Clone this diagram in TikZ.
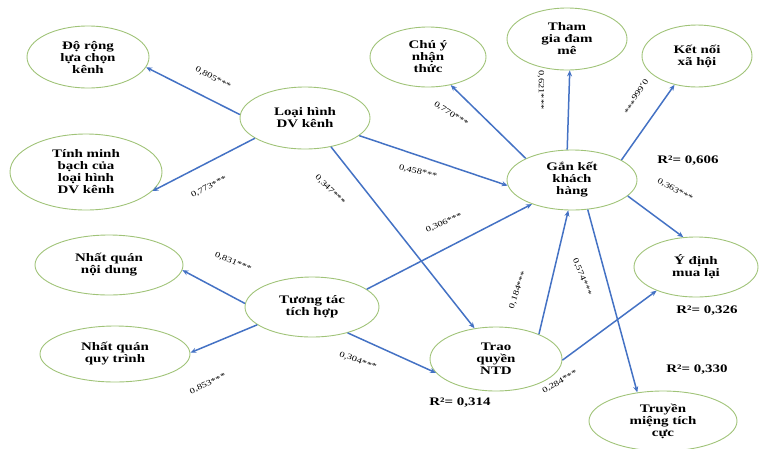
\documentclass[tikz,border=0pt]{standalone}
\usepackage{fontspec}
\setmainfont{Liberation Serif}[FakeStretch=1.3]
\usetikzlibrary{shapes.geometric,arrows.meta}
\definecolor{ellgreen}{RGB}{160,195,120}
\definecolor{arrblue}{RGB}{68,114,196}
\begin{document}
\begin{tikzpicture}[x=1pt,y=-1pt,
 ell/.style={ellipse,draw=ellgreen,line width=0.9pt,inner sep=0pt,align=center,font=\bfseries\fontsize{11.5}{12}\selectfont},
 arr/.style={draw=arrblue,line width=1.5pt,-{Stealth[length=6pt,width=5pt]}},
 coef/.style={font=\fontsize{8}{9}\selectfont,inner sep=0pt},
 rsq/.style={font=\bfseries\fontsize{11.5}{12}\selectfont,inner sep=0pt}]
\useasboundingbox (0,0) rectangle (759,448);
% nodes
\node[ell,minimum width=122pt,minimum height=62pt] (dr) at (88,57) {Độ rộng\\lựa chọn\\kênh};
\node[ell,minimum width=152pt,minimum height=76pt] (tm) at (86,172) {Tính minh\\bạch của\\loại hình\\DV kênh};
\node[ell,minimum width=130pt,minimum height=62pt] (lh) at (305,118) {Loại hình\\DV kênh};
\node[ell,minimum width=116pt,minimum height=60pt] (cy) at (428,57) {Chú ý\\nhận\\thức};
\node[ell,minimum width=120pt,minimum height=62pt] (tg) at (567,39) {Tham\\gia đam\\mê};
\node[ell,minimum width=110pt,minimum height=62pt] (kn) at (697,56) {Kết nối\\xã hội};
\node[ell,minimum width=130pt,minimum height=60pt] (gk) at (572,180) {Gắn kết\\khách\\hàng};
\node[ell,minimum width=148pt,minimum height=60pt] (nq1) at (109,265) {Nhất quán\\nội dung};
\node[ell,minimum width=150pt,minimum height=56pt] (nq2) at (115,354) {Nhất quán\\quy trình};
\node[ell,minimum width=134pt,minimum height=60pt] (tt) at (312,307) {Tương tác\\tích hợp};
\node[ell,minimum width=132pt,minimum height=64pt] (tq) at (496,359) {Trao\\quyền\\NTD};
\node[ell,minimum width=124pt,minimum height=60pt] (yd) at (696,267) {Ý định\\mua lại};
\node[ell,minimum width=148pt,minimum height=60pt] (tr) at (663,421) {Truyền\\miệng tích\\cực};
% arrows
\draw[arr] (lh.177) -- (dr.-10);
\draw[arr] (lh.202) -- (tm.-16);
\draw[arr] (lh.-18) -- (gk.185);
\draw[arr] (lh.-48) -- (tq.125);
\draw[arr] (gk.155) -- (cy.-51);
\draw[arr] (gk.99) -- (tg.-85);
\draw[arr] (gk.22) -- (kn.-128);
\draw[arr] (gk.-16) -- (yd.113);
\draw[arr] (gk.-62) -- (tr.132);
\draw[arr] (tq.30) -- (gk.-97);
\draw[arr] (tq.-1) -- (yd.211);
\draw[arr] (tt.18) -- (gk.211);
\draw[arr] (tt.177) -- (nq1.-4);
\draw[arr] (tt.198) -- (nq2.1);
\draw[arr] (tt.-36) -- (tq.193);
% coefficients
\node[coef,rotate=-28] (c1) at (213,78) {0,805***};
\node[coef,rotate=27] (c2) at (209,187) {0,773***};
\node[coef,rotate=-45] (c3) at (330,190) {0,347***};
\node[coef,rotate=-14] (c4) at (418,172) {0,458***};
\node[coef,rotate=-33] (c5) at (451,114) {0,770***};
\node[coef,rotate=-90] (c6) at (541,90) {0,621***};
\node[coef,rotate=-125] (c7) at (635,96) {0,666***};
\node[coef,rotate=-29] (c8) at (675,190) {0,363***};
\node[coef,rotate=24] (c9) at (444,223) {0,306***};
\node[coef,rotate=70] (c10) at (518,290) {0,184***};
\node[coef,rotate=-68] (c11) at (582,277) {0,574***};
\node[coef,rotate=-23] (c12) at (233,262) {0,831***};
\node[coef,rotate=25] (c13) at (208,384) {0,853***};
\node[coef,rotate=-20] (c14) at (358,361) {0,304***};
\node[coef,rotate=30] (c15) at (560,382) {0,284***};
% R squared
\node[rsq] (r1) at (688,161) {R²= 0,606};
\node[rsq] (r2) at (707,311) {R²= 0,326};
\node[rsq] (r3) at (697,370) {R²= 0,330};
\node[rsq] (r4) at (460,403) {R²= 0,314};
\end{tikzpicture}
\end{document}
